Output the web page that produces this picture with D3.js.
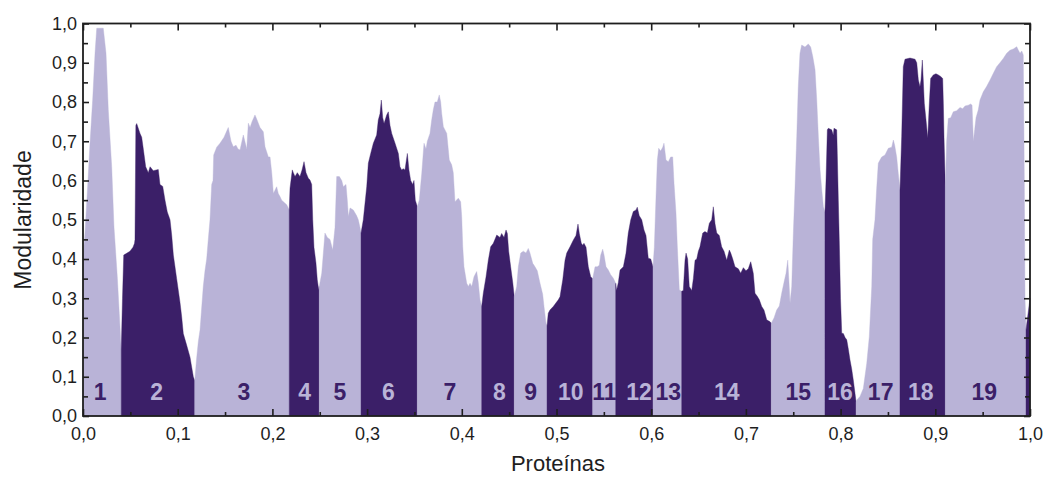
<!DOCTYPE html>
<html>
<head>
<meta charset="utf-8">
<script src="https://cdn.jsdelivr.net/npm/d3@7"></script>
<style>
  body { margin: 0; background: #fff; }
  svg { display: block; font-family: Arial, "Liberation Sans", sans-serif; }
</style>
</head>
<body>
<svg width="1046" height="477"></svg>
<script>
// modularity profile along the protein ordering, [fraction, modularity]
const perfil = [
  // 1
  [0, 0.40], [0.0021, 0.466], [0.0045, 0.567], [0.0074, 0.695], [0.0102, 0.805], [0.0127, 0.924],
  [0.0145, 0.988], [0.0214, 0.988], [0.0243, 0.924], [0.0267, 0.78], [0.0303, 0.635], [0.0327, 0.482],
  [0.0362, 0.355], [0.0383, 0.262], [0.0398, 0.194], [0.0404, 0.17],
  // 2
  [0.0417, 0.30], [0.0430, 0.41], [0.0465, 0.415], [0.0496, 0.42], [0.0528, 0.43], [0.0544, 0.44],
  [0.0549, 0.45], [0.0558, 0.74], [0.0567, 0.745], [0.0602, 0.72], [0.0620, 0.71], [0.0637, 0.68],
  [0.0662, 0.635], [0.0690, 0.62], [0.0708, 0.635], [0.0742, 0.625], [0.0795, 0.628], [0.0813, 0.59],
  [0.0842, 0.585], [0.0866, 0.55], [0.0890, 0.52], [0.0919, 0.50], [0.0937, 0.46], [0.0954, 0.41],
  [0.0989, 0.35], [0.1024, 0.29], [0.1042, 0.253], [0.1059, 0.21], [0.1095, 0.18], [0.1130, 0.15],
  [0.1165, 0.10], [0.1180, 0.09],
  // 3
  [0.1201, 0.15], [0.1218, 0.19], [0.1236, 0.22], [0.1270, 0.33], [0.1288, 0.37], [0.1306, 0.40],
  [0.1323, 0.45], [0.1341, 0.50], [0.1359, 0.59], [0.1373, 0.60], [0.1380, 0.665], [0.1412, 0.685],
  [0.1447, 0.695], [0.1489, 0.71], [0.1534, 0.735], [0.1563, 0.70], [0.1587, 0.686], [0.1616, 0.69],
  [0.1637, 0.68], [0.1658, 0.678], [0.1693, 0.716], [0.1729, 0.68], [0.1746, 0.746], [0.1764, 0.735],
  [0.1785, 0.75], [0.1816, 0.767], [0.1837, 0.755], [0.1869, 0.735], [0.1904, 0.724], [0.1922, 0.686],
  [0.1957, 0.66], [0.1975, 0.66], [0.1993, 0.62], [0.2010, 0.567], [0.2045, 0.584], [0.2062, 0.567],
  [0.2080, 0.559], [0.2098, 0.55], [0.2151, 0.538], [0.2178, 0.525],
  // 4
  [0.2186, 0.58], [0.2210, 0.627], [0.2221, 0.62], [0.2239, 0.61], [0.2263, 0.62], [0.2291, 0.61],
  [0.2313, 0.627], [0.2334, 0.648], [0.2355, 0.62], [0.2379, 0.606], [0.2397, 0.601], [0.2415, 0.59],
  [0.2426, 0.50], [0.2439, 0.43], [0.2460, 0.39], [0.2474, 0.347], [0.2489, 0.321], [0.2495, 0.33],
  // 5
  [0.2521, 0.364], [0.2538, 0.415], [0.2555, 0.466], [0.2580, 0.455], [0.2608, 0.45], [0.2637, 0.423],
  [0.2661, 0.48], [0.2679, 0.61], [0.2707, 0.61], [0.2732, 0.60], [0.2749, 0.584], [0.2777, 0.59],
  [0.2791, 0.55], [0.2802, 0.508], [0.2820, 0.53], [0.2854, 0.525], [0.2890, 0.51], [0.2907, 0.50],
  [0.2925, 0.48], [0.2936, 0.466],
  // 6
  [0.2960, 0.50], [0.2996, 0.584], [0.3013, 0.644], [0.3038, 0.669], [0.3066, 0.695], [0.3101, 0.716],
  [0.3118, 0.754], [0.3136, 0.77], [0.3150, 0.805], [0.3165, 0.76], [0.3179, 0.745], [0.3207, 0.767],
  [0.3224, 0.775], [0.3242, 0.74], [0.3260, 0.72], [0.3295, 0.695], [0.3330, 0.669], [0.3347, 0.635],
  [0.3365, 0.627], [0.3382, 0.63], [0.3400, 0.627], [0.3425, 0.669], [0.3442, 0.627], [0.3460, 0.60],
  [0.3482, 0.59], [0.3495, 0.60], [0.3509, 0.55], [0.3530, 0.533],
  // 7
  [0.3551, 0.55], [0.3577, 0.618], [0.3601, 0.695], [0.3622, 0.68], [0.3636, 0.70], [0.3664, 0.72],
  [0.3682, 0.754], [0.3699, 0.78], [0.3717, 0.80], [0.3741, 0.80], [0.3762, 0.818], [0.3777, 0.80],
  [0.3788, 0.77], [0.3805, 0.737], [0.3841, 0.72], [0.3868, 0.652], [0.3893, 0.64], [0.3910, 0.62],
  [0.3928, 0.546], [0.3963, 0.555], [0.3988, 0.546], [0.3999, 0.508], [0.4010, 0.431], [0.4023, 0.38],
  [0.4052, 0.338], [0.4069, 0.33], [0.4087, 0.338], [0.4105, 0.33], [0.4129, 0.355], [0.4157, 0.368],
  [0.4174, 0.34], [0.4192, 0.296], [0.4210, 0.279],
  // 8
  [0.4227, 0.313], [0.4256, 0.355], [0.4280, 0.397], [0.4305, 0.431], [0.4333, 0.44], [0.4369, 0.461],
  [0.4403, 0.455], [0.4421, 0.465], [0.4446, 0.455], [0.4467, 0.474], [0.4481, 0.465], [0.4495, 0.42],
  [0.4516, 0.38], [0.4538, 0.34], [0.4554, 0.304],
  // 9
  [0.4580, 0.33], [0.4597, 0.38], [0.4622, 0.415], [0.4650, 0.42], [0.4678, 0.415], [0.4702, 0.427],
  [0.4720, 0.415], [0.4749, 0.389], [0.4773, 0.38], [0.4797, 0.37], [0.4826, 0.338], [0.4854, 0.31],
  [0.4868, 0.279], [0.4889, 0.236], [0.4900, 0.23],
  // 10
  [0.4913, 0.262], [0.4931, 0.27], [0.4966, 0.279], [0.5019, 0.296], [0.5037, 0.304], [0.5066, 0.347],
  [0.5090, 0.397], [0.5108, 0.415], [0.5143, 0.431], [0.5177, 0.448], [0.5206, 0.46], [0.5227, 0.489],
  [0.5241, 0.465], [0.5262, 0.44], [0.5277, 0.435], [0.5290, 0.44], [0.5312, 0.43], [0.5336, 0.38],
  [0.5361, 0.355], [0.5382, 0.35],
  // 11
  [0.5407, 0.38], [0.5431, 0.38], [0.5452, 0.384], [0.5467, 0.41], [0.5488, 0.425], [0.5502, 0.41],
  [0.5523, 0.38], [0.5547, 0.372], [0.5572, 0.36], [0.5600, 0.351], [0.5625, 0.338],
  // 12
  [0.5634, 0.32], [0.5653, 0.34], [0.5671, 0.372], [0.5706, 0.38], [0.5734, 0.415], [0.5758, 0.466],
  [0.5784, 0.50], [0.5811, 0.521], [0.5840, 0.525], [0.5853, 0.532], [0.5874, 0.51], [0.5900, 0.50],
  [0.5924, 0.474], [0.5945, 0.46], [0.5969, 0.402], [0.5995, 0.40], [0.6019, 0.38],
  // 13
  [0.6033, 0.43], [0.6051, 0.559], [0.6065, 0.652], [0.6079, 0.682], [0.6100, 0.675], [0.6122, 0.685],
  [0.6135, 0.695], [0.6156, 0.652], [0.6181, 0.648], [0.6206, 0.66], [0.6227, 0.66], [0.6241, 0.593],
  [0.6262, 0.516], [0.6276, 0.431], [0.6297, 0.321], [0.6322, 0.318],
  // 14
  [0.6339, 0.32], [0.6357, 0.397], [0.6368, 0.415], [0.6385, 0.40], [0.6402, 0.33], [0.6428, 0.32],
  [0.6445, 0.35], [0.6463, 0.397], [0.6481, 0.40], [0.6498, 0.42], [0.6515, 0.431], [0.6544, 0.466],
  [0.6568, 0.47], [0.6593, 0.466], [0.6614, 0.491], [0.6639, 0.50], [0.6656, 0.533], [0.6674, 0.49],
  [0.6692, 0.466], [0.6719, 0.46], [0.6744, 0.431], [0.6769, 0.42], [0.6797, 0.397], [0.6825, 0.423],
  [0.6840, 0.415], [0.6861, 0.40], [0.6885, 0.38], [0.6920, 0.375], [0.6945, 0.364], [0.6973, 0.378],
  [0.7001, 0.37], [0.7025, 0.375], [0.7051, 0.393], [0.7078, 0.364], [0.7096, 0.313], [0.7120, 0.305],
  [0.7142, 0.296], [0.7167, 0.279], [0.7191, 0.27], [0.7220, 0.245], [0.7255, 0.24], [0.7268, 0.236],
  // 15
  [0.7297, 0.25], [0.7325, 0.27], [0.7353, 0.28], [0.7378, 0.313], [0.7402, 0.34], [0.7424, 0.364],
  [0.7442, 0.397], [0.7455, 0.34], [0.7466, 0.287], [0.7484, 0.33], [0.7501, 0.466], [0.7519, 0.584],
  [0.7537, 0.712], [0.7553, 0.839], [0.7571, 0.924], [0.7589, 0.945], [0.7624, 0.94], [0.7659, 0.948],
  [0.7684, 0.94], [0.7706, 0.916], [0.7730, 0.882], [0.7748, 0.805], [0.7765, 0.712], [0.7783, 0.627],
  [0.7801, 0.576], [0.7818, 0.533], [0.7835, 0.52],
  // 16
  [0.7846, 0.60], [0.7860, 0.729], [0.7870, 0.733], [0.7906, 0.729], [0.7923, 0.715], [0.7930, 0.733],
  [0.7959, 0.729], [0.7965, 0.669], [0.7976, 0.55], [0.7986, 0.448], [0.7999, 0.30], [0.8012, 0.211],
  [0.8029, 0.21], [0.8047, 0.20], [0.8065, 0.194], [0.8082, 0.17], [0.8099, 0.143], [0.8117, 0.12],
  [0.8134, 0.092], [0.8152, 0.058], [0.8163, 0.036],
  // 17
  [0.8170, 0.04], [0.8205, 0.05], [0.8240, 0.07], [0.8276, 0.134], [0.8303, 0.202], [0.8329, 0.33],
  [0.8339, 0.45], [0.8363, 0.50], [0.8381, 0.58], [0.8398, 0.644], [0.8416, 0.652], [0.8434, 0.66],
  [0.8469, 0.665], [0.8504, 0.682], [0.8540, 0.685], [0.8557, 0.703], [0.8571, 0.69], [0.8592, 0.66],
  [0.8609, 0.618], [0.8627, 0.576],
  // 18
  [0.8645, 0.712], [0.8662, 0.89], [0.8680, 0.909], [0.8733, 0.912], [0.8786, 0.909], [0.8804, 0.90],
  [0.8821, 0.856], [0.8838, 0.839], [0.8849, 0.856], [0.8863, 0.907], [0.8873, 0.856], [0.8884, 0.797],
  [0.8902, 0.754], [0.8920, 0.708], [0.8937, 0.797], [0.8951, 0.86], [0.8979, 0.869], [0.9007, 0.872],
  [0.9032, 0.869], [0.9057, 0.865], [0.9078, 0.86], [0.9085, 0.797], [0.9092, 0.71], [0.9106, 0.584],
  // 19
  [0.9120, 0.70], [0.9137, 0.758], [0.9163, 0.76], [0.9190, 0.775], [0.9226, 0.778], [0.9261, 0.786],
  [0.9289, 0.783], [0.9314, 0.79], [0.9349, 0.792], [0.9374, 0.795], [0.9388, 0.792], [0.9402, 0.70],
  [0.9416, 0.73], [0.9430, 0.76], [0.9454, 0.78], [0.9472, 0.805], [0.9507, 0.826], [0.9543, 0.84],
  [0.9578, 0.856], [0.9613, 0.873], [0.9648, 0.89], [0.9683, 0.90], [0.9718, 0.911], [0.9754, 0.924],
  [0.9789, 0.932], [0.9824, 0.935], [0.9860, 0.941], [0.9877, 0.932], [0.9895, 0.924], [0.9913, 0.93],
  [0.9929, 0.92], [0.9940, 0.60], [0.9947, 0.30], [0.9958, 0.22],
  // last sliver
  [0.9979, 0.26], [1.0, 0.30]
];

// module boundaries along x (19 numbered modules + a sliver at the end)
const limites = [0, 0.0404, 0.1180, 0.2178, 0.2495, 0.2936, 0.3530, 0.4210, 0.4554, 0.4900,
  0.5382, 0.5625, 0.6019, 0.6322, 0.7268, 0.7835, 0.8163, 0.8627, 0.9106, 0.9958, 1.0];
const rotulos = ["1", "2", "3", "4", "5", "6", "7", "8", "9", "10",
  "11", "12", "13", "14", "15", "16", "17", "18", "19"];
const posRotulos = [0.018, 0.0778, 0.170, 0.234, 0.2714, 0.3224, 0.3875, 0.4396, 0.4728, 0.515,
  0.5505, 0.5871, 0.618, 0.6797, 0.7553, 0.7994, 0.8423, 0.8846, 0.9517];

const marcas = [0, 0.1, 0.2, 0.3, 0.4, 0.5, 0.6, 0.7, 0.8, 0.9, 1.0];
const marcasMenores = [0.05, 0.15, 0.25, 0.35, 0.45, 0.55, 0.65, 0.75, 0.85, 0.95];

const claro = "#b9b3d7";
const escuro = "#3b1f68";
const eixo = "#1e1e1e";

const x = d3.scaleLinear().domain([0, 1]).range([83, 1030]);
const y = d3.scaleLinear().domain([0, 1]).range([416, 23.5]);

const svg = d3.select("svg");

const area = d3.area()
  .x((d) => x(d[0]))
  .y0(y(0))
  .y1((d) => y(d[1]));

// one filled area per module, alternating light / dark
limites.slice(0, -1).forEach((a, i) => {
  const b = limites[i + 1];
  const pts = perfil.filter((p) => p[0] >= a - 1e-9 && p[0] <= b + 1e-9);
  const cor = i % 2 ? escuro : claro;
  svg.append("path")
    .datum(pts)
    .attr("d", area)
    .attr("fill", cor)
    .attr("stroke", cor)
    .attr("stroke-width", 0.4);
});

// module numbers
svg.append("g")
  .selectAll("text")
  .data(rotulos)
  .enter()
  .append("text")
  .attr("x", (d, i) => x(posRotulos[i]))
  .attr("y", 400)
  .attr("text-anchor", "middle")
  .attr("font-size", "23px")
  .attr("font-weight", "bold")
  .attr("fill", (d, i) => (i % 2 ? claro : escuro))
  .text((d) => d);

const fmt = d3.formatLocale({ decimal: ",", thousands: ".", grouping: [3], currency: ["", ""] }).format(".1f");

function estilo(g) {
  g.select(".domain").remove();
  g.selectAll("line").attr("stroke", eixo).attr("stroke-width", 1.6);
  g.selectAll("text").attr("font-size", "18px").attr("fill", eixo);
}

// bottom
svg.append("g").attr("transform", "translate(0,416)")
  .call(d3.axisBottom(x).tickValues(marcas).tickFormat(fmt).tickSizeInner(-7).tickSizeOuter(0).tickPadding(11))
  .call(estilo);
svg.append("g").attr("transform", "translate(0,416)")
  .call(d3.axisBottom(x).tickValues(marcasMenores).tickFormat("").tickSizeInner(-4).tickSizeOuter(0))
  .call(estilo);
// top
svg.append("g").attr("transform", "translate(0,23.5)")
  .call(d3.axisTop(x).tickValues(marcas).tickFormat("").tickSizeInner(-7).tickSizeOuter(0))
  .call(estilo);
svg.append("g").attr("transform", "translate(0,23.5)")
  .call(d3.axisTop(x).tickValues(marcasMenores).tickFormat("").tickSizeInner(-4).tickSizeOuter(0))
  .call(estilo);
// left
svg.append("g").attr("transform", "translate(83,0)")
  .call(d3.axisLeft(y).tickValues(marcas).tickFormat(fmt).tickSizeInner(-6).tickSizeOuter(0).tickPadding(6))
  .call(estilo);
svg.append("g").attr("transform", "translate(83,0)")
  .call(d3.axisLeft(y).tickValues(marcasMenores).tickFormat("").tickSizeInner(-5).tickSizeOuter(0))
  .call(estilo);
// right
svg.append("g").attr("transform", "translate(1030,0)")
  .call(d3.axisRight(y).tickValues(marcas).tickFormat("").tickSizeInner(-6).tickSizeOuter(0))
  .call(estilo);
svg.append("g").attr("transform", "translate(1030,0)")
  .call(d3.axisRight(y).tickValues(marcasMenores).tickFormat("").tickSizeInner(-5).tickSizeOuter(0))
  .call(estilo);

// frame
svg.append("rect")
  .attr("x", x(0))
  .attr("y", y(1))
  .attr("width", x(1) - x(0))
  .attr("height", y(0) - y(1))
  .attr("fill", "none")
  .attr("stroke", eixo)
  .attr("stroke-width", 1.8);

// axis titles
svg.append("text")
  .attr("x", 558)
  .attr("y", 471)
  .attr("text-anchor", "middle")
  .attr("font-size", "22px")
  .attr("fill", eixo)
  .text("Proteínas");

svg.append("text")
  .attr("transform", "translate(31,220) rotate(-90)")
  .attr("text-anchor", "middle")
  .attr("font-size", "23px")
  .attr("fill", eixo)
  .text("Modularidade");
</script>
</body>
</html>
